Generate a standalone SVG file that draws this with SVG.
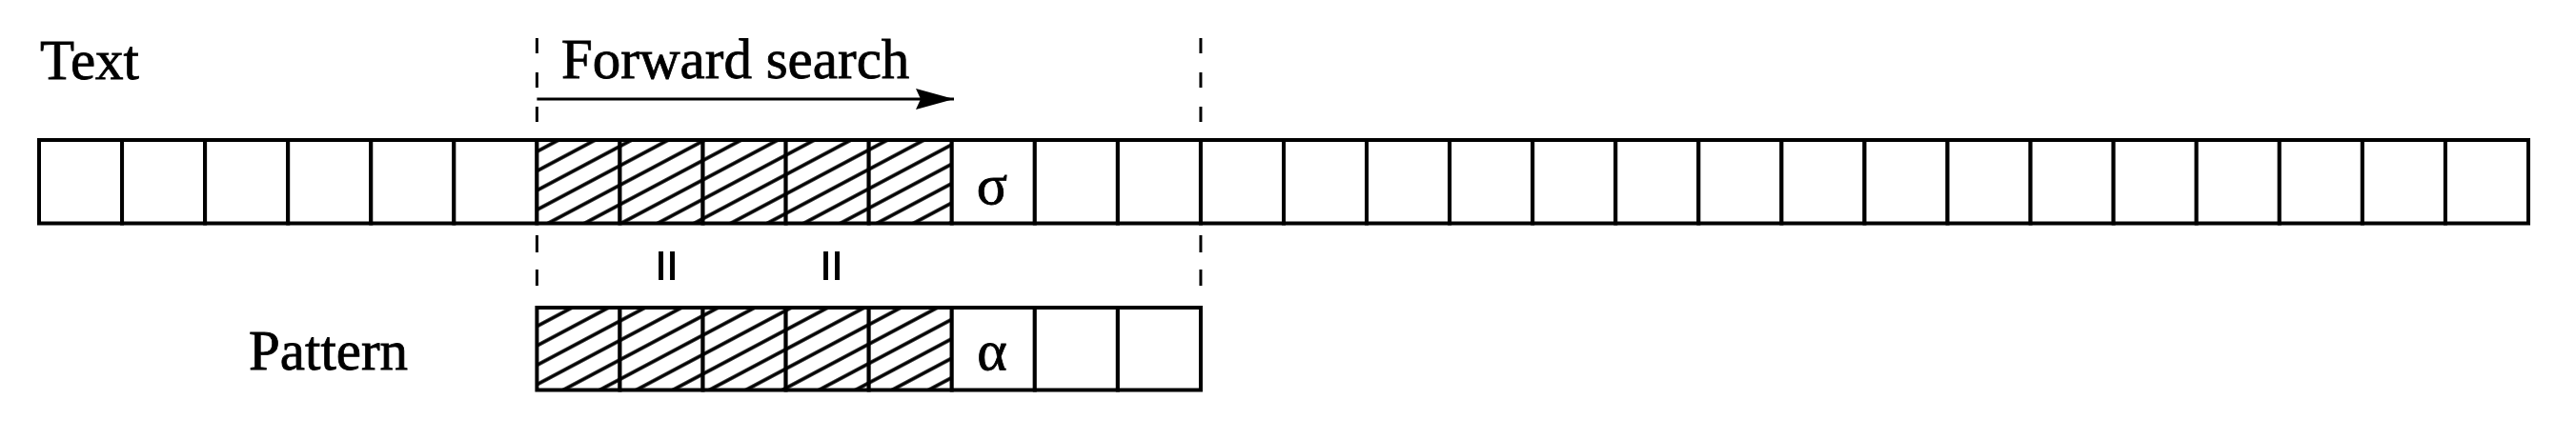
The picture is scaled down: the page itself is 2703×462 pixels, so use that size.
<svg xmlns="http://www.w3.org/2000/svg" width="2703" height="462" viewBox="0 0 2703 462">
  <style>
    .lbl { font-family: "Liberation Serif", "Times New Roman", serif; font-size: 59px; fill: #000; stroke: #000; stroke-width: 0.8; }
    .sym { font-family: "Liberation Serif", "Times New Roman", serif; font-size: 60px; fill: #000; stroke: #000; stroke-width: 0.8; text-anchor: middle; }
    .eq { font-family: "Liberation Serif", "Times New Roman", serif; font-size: 60px; fill: #000; stroke: #000; stroke-width: 2; text-anchor: middle; }
    .cell { fill: #fff; stroke: #000; stroke-width: 4; }
    .hatched { fill: url(#hatch); stroke: #000; stroke-width: 4; }
    .guide { fill: none; stroke: #000; stroke-width: 3; }
    .conn { fill: none; stroke: #000; stroke-width: 3; }
  </style>
  <defs>
    <pattern id="hatch" patternUnits="userSpaceOnUse" width="12" height="18" patternTransform="rotate(-28)">
      <rect x="0" y="0" width="12" height="18" fill="#fff"/>
      <line x1="-1" y1="9" x2="13" y2="9" stroke="#000" stroke-width="3.6"/>
    </pattern>
    <marker id="arrowhead" markerUnits="userSpaceOnUse" viewBox="0 0 40 22" refX="40" refY="11" markerWidth="40" markerHeight="22" orient="auto">
      <path d="M0,0 L40,11 L0,22 L5,11 Z" fill="#000"/>
    </marker>
  </defs>
  <rect x="0" y="0" width="2703" height="462" fill="#fff"/>

  <g id="labels">
    <text id="label-text" class="lbl" x="42" y="83">Text</text>
    <text id="label-forward" class="lbl" x="589" y="82">Forward search</text>
    <text id="label-pattern" class="lbl" x="261" y="388">Pattern</text>
  </g>

  <g id="text-array">
    <rect class="cell" x="41" y="147" width="87.07" height="87.5"/>
    <rect class="cell" x="128.07" y="147" width="87.07" height="87.5"/>
    <rect class="cell" x="215.13" y="147" width="87.07" height="87.5"/>
    <rect class="cell" x="302.2" y="147" width="87.07" height="87.5"/>
    <rect class="cell" x="389.27" y="147" width="87.07" height="87.5"/>
    <rect class="cell" x="476.33" y="147" width="87.07" height="87.5"/>
    <rect class="hatched" x="563.4" y="147" width="87.07" height="87.5"/>
    <rect class="hatched" x="650.47" y="147" width="87.07" height="87.5"/>
    <rect class="hatched" x="737.53" y="147" width="87.07" height="87.5"/>
    <rect class="hatched" x="824.6" y="147" width="87.07" height="87.5"/>
    <rect class="hatched" x="911.67" y="147" width="87.07" height="87.5"/>
    <g id="text-sigma">
      <rect class="cell" x="998.73" y="147" width="87.07" height="87.5"/>
      <text class="sym" x="1041" y="214">σ</text>
    </g>
    <rect class="cell" x="1085.8" y="147" width="87.07" height="87.5"/>
    <rect class="cell" x="1172.87" y="147" width="87.07" height="87.5"/>
    <rect class="cell" x="1259.93" y="147" width="87.07" height="87.5"/>
    <rect class="cell" x="1347" y="147" width="87.07" height="87.5"/>
    <rect class="cell" x="1434.07" y="147" width="87.07" height="87.5"/>
    <rect class="cell" x="1521.13" y="147" width="87.07" height="87.5"/>
    <rect class="cell" x="1608.2" y="147" width="87.07" height="87.5"/>
    <rect class="cell" x="1695.27" y="147" width="87.07" height="87.5"/>
    <rect class="cell" x="1782.33" y="147" width="87.07" height="87.5"/>
    <rect class="cell" x="1869.4" y="147" width="87.07" height="87.5"/>
    <rect class="cell" x="1956.47" y="147" width="87.07" height="87.5"/>
    <rect class="cell" x="2043.53" y="147" width="87.07" height="87.5"/>
    <rect class="cell" x="2130.6" y="147" width="87.07" height="87.5"/>
    <rect class="cell" x="2217.67" y="147" width="87.07" height="87.5"/>
    <rect class="cell" x="2304.73" y="147" width="87.07" height="87.5"/>
    <rect class="cell" x="2391.8" y="147" width="87.07" height="87.5"/>
    <rect class="cell" x="2478.87" y="147" width="87.07" height="87.5"/>
    <rect class="cell" x="2565.93" y="147" width="87.07" height="87.5"/>
  </g>

  <g id="pattern-array">
    <rect class="hatched" x="563.4" y="323" width="87.07" height="86.5"/>
    <rect class="hatched" x="650.47" y="323" width="87.07" height="86.5"/>
    <rect class="hatched" x="737.53" y="323" width="87.07" height="86.5"/>
    <rect class="hatched" x="824.6" y="323" width="87.07" height="86.5"/>
    <rect class="hatched" x="911.67" y="323" width="87.07" height="86.5"/>
    <g id="pattern-alpha">
      <rect class="cell" x="998.73" y="323" width="87.07" height="86.5"/>
      <text class="sym" x="1041" y="388">α</text>
    </g>
    <rect class="cell" x="1085.8" y="323" width="87.07" height="86.5"/>
    <rect class="cell" x="1172.87" y="323" width="87.07" height="86.5"/>
  </g>

  <g id="equalities">
    <text class="eq" x="696" y="295" transform="rotate(90 696 279)">=</text>
    <text class="eq" x="868.5" y="295" transform="rotate(90 868.5 279)">=</text>
  </g>

  <g id="guides">
    <line class="guide" x1="563.4" y1="40" x2="563.4" y2="130" stroke-dasharray="16 20"/>
    <line class="guide" x1="563.4" y1="247" x2="563.4" y2="300" stroke-dasharray="18 18"/>
    <line class="guide" x1="1259.93" y1="40" x2="1259.93" y2="130" stroke-dasharray="16 20"/>
    <line class="guide" x1="1259.93" y1="247" x2="1259.93" y2="300" stroke-dasharray="18 18"/>
  </g>

  <g id="connectors">
    <line class="conn" x1="563.4" y1="104" x2="1001" y2="104" marker-end="url(#arrowhead)"/>
  </g>
</svg>
